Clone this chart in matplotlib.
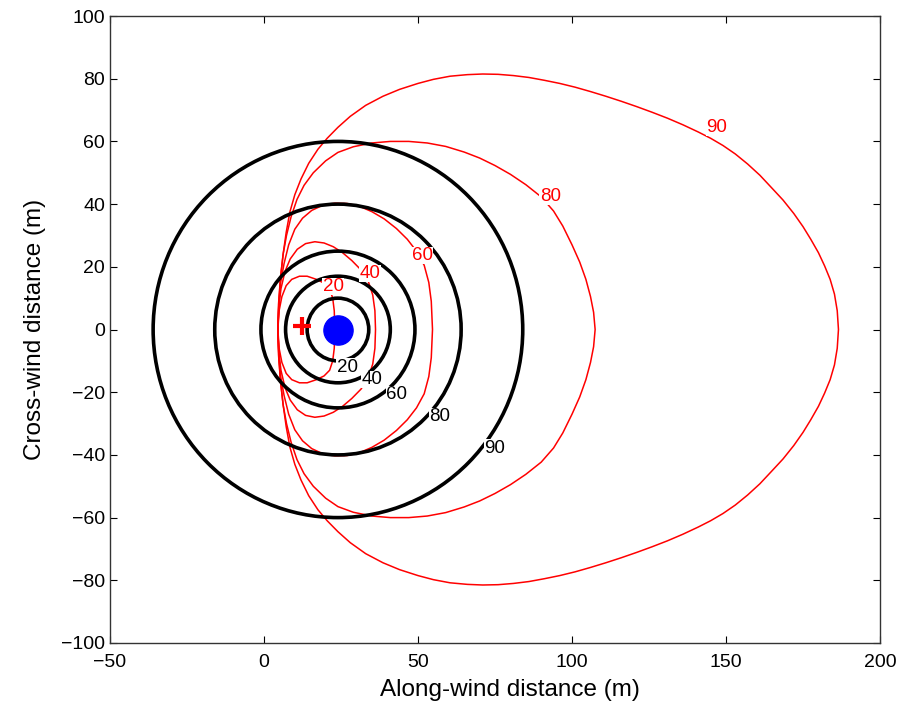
import numpy as np
import matplotlib
matplotlib.use("Agg")
import matplotlib.pyplot as plt
from matplotlib.patches import Circle

# black (circular) source-area contours
circle_levels = [20, 40, 60, 80, 90]
circle_center = (24, 0)
circle_radii = [10, 17, 25, 40, 60]
circle_label_x = [27, 35, 43, 57, 75]
circle_label_y = [-12, -16, -20.8, -27.8, -37.8]

# red footprint contours, upper half (symmetric about y=0)
fp_levels = [20, 40, 60, 80, 90]
fp20_x = [4.5, 4.9, 5.8, 7.2, 9, 11.5, 14, 17, 19.5, 21.3, 22.3, 22.8, 23]
fp20_y = [0, 6, 10.5, 14, 16, 17, 17, 16, 14.8, 13, 10, 6, 0]
fp40_x = [4.5, 4.8, 5.5, 6.8, 8.5, 10.8, 13.5, 16.5, 19.5, 22.5, 25.5, 28.5, 31.5, 33.8, 35.3, 36, 36.2]
fp40_y = [0, 7, 13, 18.5, 22.5, 25.6, 27.4, 28, 27.6, 26.4, 24.5, 22, 19, 15.5, 11, 6, 0]
fp60_x = [4.5, 4.8, 5.4, 6.5, 8, 10, 12.5, 15.5, 19, 23, 27, 31, 35, 39, 43, 46.5, 49.5, 52, 53.5, 54.3, 54.7]
fp60_y = [0, 8, 15, 21, 27, 32, 35.5, 38, 39.6, 40.3, 40.2, 39.3, 37.6, 35.3, 32.2, 28.8, 25, 20.5, 15, 9, 0]
fp80_x = [4.5, 4.8, 5.3, 6.2, 7.3, 8.8, 10.7, 13, 16, 20, 24, 29, 35, 41, 47, 53, 59, 65, 70, 75,
          80, 85, 90, 94, 97, 100, 102.5, 104.5, 106, 107, 107.5]
fp80_y = [0, 8, 16, 24, 30, 36, 41.5, 46, 50, 53.8, 56.5, 58.3, 59.5, 60, 60, 59.5, 58.4, 56.6, 54.7, 52.3,
          49.5, 46.2, 42.3, 37.8, 33, 27, 21.5, 16, 10.5, 5.5, 0]
fp90_x = [4.5, 4.7, 5.3, 6.2, 7.2, 8.4, 10, 12, 14.5, 17.5, 20.5, 24, 28, 33, 38.6, 44, 50, 55, 60.4, 66,
          71, 76, 81, 86, 91, 96, 101, 106, 111, 116, 121, 126, 131, 136, 141, 145, 149, 153, 157, 161,
          165, 168.5, 172, 175, 177.5, 180, 182, 183.8, 185.2, 186.1, 186.5]
fp90_y = [0, 8, 16, 24, 31, 37.5, 43, 48, 53, 57.5, 61, 64.5, 68, 71.5, 74.4, 76.6, 78.5, 79.8, 80.8, 81.3,
          81.5, 81.4, 81, 80.4, 79.5, 78.5, 77.3, 75.9, 74.4, 72.8, 71.1, 69.3, 67.4, 65.3, 63, 61, 58.7, 56, 52.8, 49.2,
          45, 41.3, 37, 32.8, 28.8, 24.5, 20.3, 16, 11.3, 6, 0]
fp_label_x = [22.4, 34.4, 51.3, 92.9, 147]
fp_label_y = [13.7, 17.9, 23.6, 42.5, 64.5]

peak_x, peak_y = 12.3, 1
tower_x, tower_y = 24, 0

plt.rcParams['font.family'] = ['Liberation Sans', 'DejaVu Sans']

fig = plt.figure(figsize=(9.04, 7.09), dpi=100)
ax = fig.add_axes([0.1217, 0.0931, 0.8518, 0.8843])

fp_x = [fp20_x, fp40_x, fp60_x, fp80_x, fp90_x]
fp_y = [fp20_y, fp40_y, fp60_y, fp80_y, fp90_y]
for xs, ys in zip(fp_x, fp_y):
    xs = np.array(xs)
    ys = np.array(ys)
    cx = np.concatenate([xs, xs[::-1]])
    cy = np.concatenate([ys, -ys[::-1]])
    ax.plot(cx, cy, color='red', lw=1.1, zorder=2)

for r in circle_radii:
    ax.add_patch(Circle(circle_center, r, fill=False, ec='black', lw=2.6, zorder=3))

for lev, lx, ly in zip(circle_levels, circle_label_x, circle_label_y):
    ax.text(lx, ly, str(lev), color='black', fontsize=13.5, ha='center', va='center', zorder=5,
            bbox=dict(fc='white', ec='none', pad=0.2))
for lev, lx, ly in zip(fp_levels, fp_label_x, fp_label_y):
    ax.text(lx, ly, str(lev), color='red', fontsize=13.5, ha='center', va='center', zorder=5,
            bbox=dict(fc='white', ec='none', pad=0.2))

ax.plot(tower_x, tower_y, 'o', color='blue', ms=21, zorder=6)
ax.plot(peak_x, peak_y, '+', color='red', ms=13, mew=3, zorder=6)

ax.set_xlim(-50, 200)
ax.set_ylim(-100, 100)
ax.set_xticks(np.arange(-50, 201, 50))
ax.set_yticks(np.arange(-100, 101, 20))
ax.tick_params(direction='in', length=5, top=True, right=True, labelsize=14)
ax.tick_params(axis='x', pad=8)
for s in ax.spines.values():
    s.set_linewidth(1.0)
    s.set_color('#333333')
ax.set_xlabel("Along-wind distance (m)", fontsize=17.5)
ax.set_ylabel("Cross-wind distance (m)", fontsize=17.5, labelpad=11)
ax.xaxis.set_label_coords(0.519, -0.058)

fig.savefig("out.png", dpi=100)
